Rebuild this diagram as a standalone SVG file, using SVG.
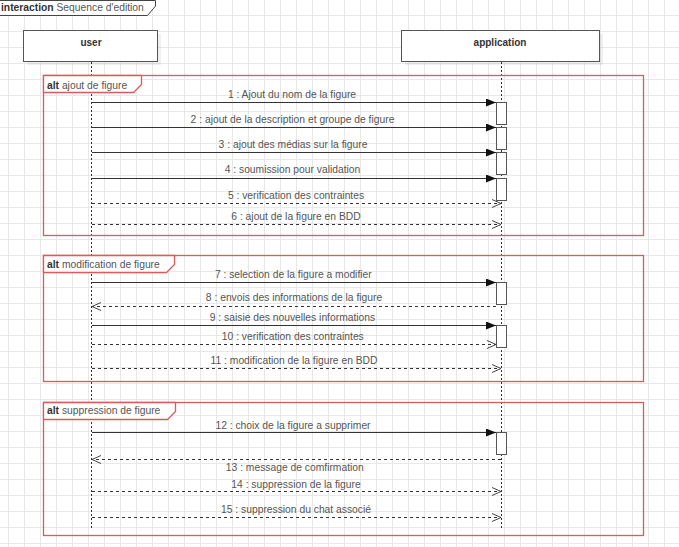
<svg xmlns="http://www.w3.org/2000/svg" width="679" height="547" viewBox="0 0 679 547">
<style>
text{font-family:"Liberation Sans",Arial,sans-serif;font-size:10.3px;fill:#555}
.b{font-weight:bold;fill:#333}
.hb{font-size:10px}
.msg{text-anchor:middle}
.frame{fill:none;stroke:#dc5a5c;stroke-width:1.3}
.tag{fill:#fff;stroke:#dc5a5c;stroke-width:1.3}
.life{stroke:#333;stroke-width:1;stroke-dasharray:2,2;fill:none}
.act{fill:#fff;stroke:#555;stroke-width:1}
.sync{stroke:#333;stroke-width:1;fill:none;marker-end:url(#filled)}
.ret{stroke:#333;stroke-width:1;fill:none;stroke-dasharray:3,3;marker-end:url(#open)}
.head{fill:#fff;stroke:#555;stroke-width:1}
</style>
<defs>
<pattern id="grid" patternUnits="userSpaceOnUse" x="8" y="15" width="16" height="16">
<path d="M0.5 0V16M0 0.5H16" stroke="#e8e8e8" stroke-width="1" fill="none"/>
</pattern>
<marker id="filled" markerUnits="userSpaceOnUse" markerWidth="10" markerHeight="8" refX="10" refY="4" orient="auto">
<path d="M0,0 L10,4 L0,8 z" fill="#111"/>
</marker>
<marker id="open" markerUnits="userSpaceOnUse" markerWidth="11" markerHeight="10" refX="10" refY="5" orient="auto">
<path d="M1,1 L10,5 L1,9" fill="none" stroke="#444" stroke-width="1"/>
</marker>
</defs>
<rect width="679" height="547" fill="#fff"/>
<rect width="679" height="547" fill="url(#grid)"/>

<g id="interaction-frame">
<path d="M0,0.5 H155.5 V6 L147.5,15.5 H0" fill="#fff" stroke="#444" stroke-width="1"/>
<text x="1" y="11"><tspan class="b">interaction</tspan> Sequence d'edition</text>
</g>

<g id="lifeline-user">
<rect x="27" y="34" width="134" height="31" fill="#000" opacity="0.06"/>
<rect class="head" x="23.5" y="30.5" width="134" height="31"/>
<text class="b msg hb" x="91" y="45.5">user</text>
<line class="life" x1="91.5" y1="62" x2="91.5" y2="528"/>
</g>

<g id="lifeline-application">
<rect x="405" y="34" width="198" height="31" fill="#000" opacity="0.06"/>
<rect class="head" x="401.5" y="30.5" width="198" height="31"/>
<text class="b msg hb" x="500" y="45.5">application</text>
<line class="life" x1="501.5" y1="62" x2="501.5" y2="528"/>
</g>

<g id="alt-ajout">
<rect class="frame" x="43.5" y="75.5" width="600" height="160"/>
<path class="tag" d="M43.5,75.5 H141.5 V84.5 L133.5,92.5 H43.5 Z"/>
<text x="47" y="88.5"><tspan class="b">alt</tspan> ajout de figure</text>
</g>

<g id="alt-modification">
<rect class="frame" x="43.5" y="255.5" width="600" height="126"/>
<path class="tag" d="M43.5,255.5 H174.5 V264.5 L166.5,272.5 H43.5 Z"/>
<text x="47" y="267.5"><tspan class="b">alt</tspan> modification de figure</text>
</g>

<g id="alt-suppression">
<rect class="frame" x="43.5" y="402.5" width="600" height="133"/>
<path class="tag" d="M43.5,402.5 H175.5 V411.5 L167.5,419.5 H43.5 Z"/>
<text x="47" y="414"><tspan class="b">alt</tspan> suppression de figure</text>
</g>

<g id="activations">
<rect class="act" x="496.5" y="102.5" width="10" height="22"/>
<rect class="act" x="496.5" y="127.5" width="10" height="22"/>
<rect class="act" x="496.5" y="152.5" width="10" height="22"/>
<rect class="act" x="496.5" y="178.5" width="10" height="22"/>
<rect class="act" x="496.5" y="282.5" width="10" height="22"/>
<rect class="act" x="496.5" y="325.5" width="10" height="22"/>
<rect class="act" x="496.5" y="432.5" width="10" height="22"/>
</g>

<g id="connectors">
<line class="sync" x1="92" y1="102.5" x2="496" y2="102.5"/>
<line class="sync" x1="92" y1="127.5" x2="496" y2="127.5"/>
<line class="sync" x1="92" y1="152.5" x2="496" y2="152.5"/>
<line class="sync" x1="92" y1="178.5" x2="496" y2="178.5"/>
<line class="ret" x1="92" y1="203.5" x2="501" y2="203.5"/>
<line class="ret" x1="92" y1="224.5" x2="501" y2="224.5"/>
<line class="sync" x1="92" y1="282.5" x2="496" y2="282.5"/>
<line class="ret" x1="496" y1="306.5" x2="92" y2="306.5"/>
<line class="sync" x1="92" y1="325.5" x2="496" y2="325.5"/>
<line class="ret" x1="92" y1="344.5" x2="496" y2="344.5"/>
<line class="ret" x1="92" y1="368.5" x2="501" y2="368.5"/>
<line class="sync" x1="92" y1="432.5" x2="496" y2="432.5"/>
<line class="ret" x1="501" y1="459.5" x2="92" y2="459.5"/>
<line class="ret" x1="92" y1="491.5" x2="501" y2="491.5"/>
<line class="ret" x1="92" y1="517.5" x2="501" y2="517.5"/>
</g>

<g id="labels">
<text class="msg" x="292" y="97.5">1 : Ajout du nom de la figure</text>
<text class="msg" x="292.5" y="122.5">2 : ajout de la description et groupe de figure</text>
<text class="msg" x="293" y="147.5">3 : ajout des médias sur la figure</text>
<text class="msg" x="292.5" y="173">4 : soumission pour validation</text>
<text class="msg" x="296" y="198.5">5 : verification des contraintes</text>
<text class="msg" x="296" y="220">6 : ajout de la figure en BDD</text>
<text class="msg" x="293.3" y="277.5">7 : selection de la figure a modifier</text>
<text class="msg" x="294" y="301">8 : envois des informations de la figure</text>
<text class="msg" x="292.5" y="321">9 : saisie des nouvelles informations</text>
<text class="msg" x="292.8" y="340">10 : verification des contraintes</text>
<text class="msg" x="294" y="363.5">11 : modification de la figure en BDD</text>
<text class="msg" x="293" y="428.5">12 : choix de la figure a supprimer</text>
<text class="msg" x="294.8" y="471">13 : message de comfirmation</text>
<text class="msg" x="296" y="487.5">14 : suppression de la figure</text>
<text class="msg" x="296" y="513">15 : suppression du chat associé</text>
</g>
</svg>
